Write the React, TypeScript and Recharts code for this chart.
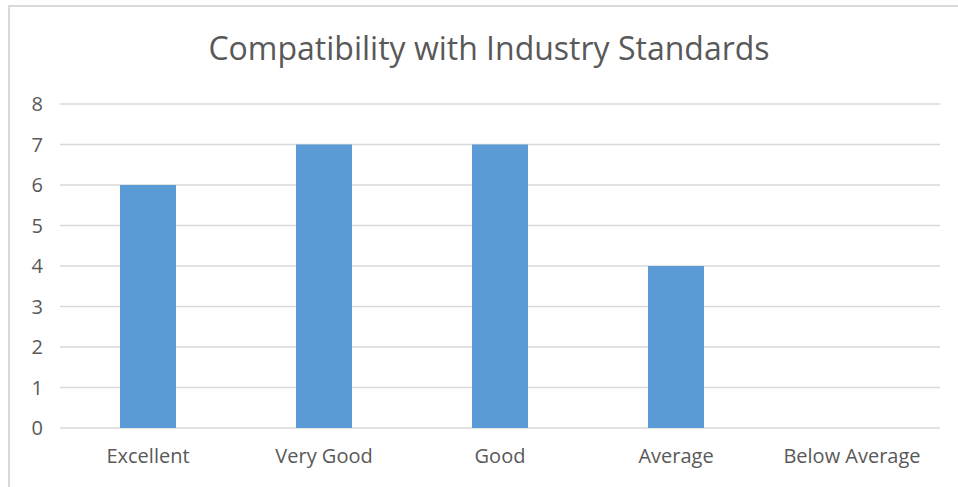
import React from "react";
import { BarChart, Bar, XAxis, YAxis, CartesianGrid } from "recharts";

const categories = ["Excellent", "Very Good", "Good", "Average", "Below Average"];
const counts = [6, 7, 7, 4, 0];
const yTicks = [0, 1, 2, 3, 4, 5, 6, 7, 8];
const title = "Compatibility with Industry Standards";

const data = categories.map((c, i) => ({ name: c, value: counts[i] }));

const font = "'Open Sans', 'Noto Sans', sans-serif";

export default function App() {
  return (
    <div style={{ position: "fixed", left: 0, top: 0, width: 958, height: 487, overflow: "hidden", background: "#fff" }}>
      <div style={{ position: "absolute", left: 8, top: 5, width: 1000, height: 600, border: "2px solid #d9d9d9", boxSizing: "border-box" }} />
      <div style={{ position: "absolute", left: 0, top: 28, width: 978, textAlign: "center", fontFamily: font, fontSize: 32, color: "#595959", lineHeight: "40px" }}>
        {title}
      </div>
      <div style={{ position: "absolute", left: 0, top: 0 }}>
        <BarChart width={958} height={487} data={data} margin={{ top: 104, right: 18, left: 0, bottom: 0 }}>
          <CartesianGrid vertical={false} stroke="#d9d9d9" strokeWidth={1.5} />
          <XAxis dataKey="name" axisLine={false} tickLine={false} tickSize={0} tickMargin={21} height={59}
            tick={{ fill: "#595959", fontSize: 20, fontFamily: font }} interval={0} />
          <YAxis domain={[0, 8]} ticks={yTicks} axisLine={false} tickLine={false} tickSize={0} tickMargin={17} width={60}
            tick={{ fill: "#595959", fontSize: 20, fontFamily: font }} />
          <Bar dataKey="value" fill="#5b9bd5" barSize={56} isAnimationActive={false} />
        </BarChart>
      </div>
    </div>
  );
}
